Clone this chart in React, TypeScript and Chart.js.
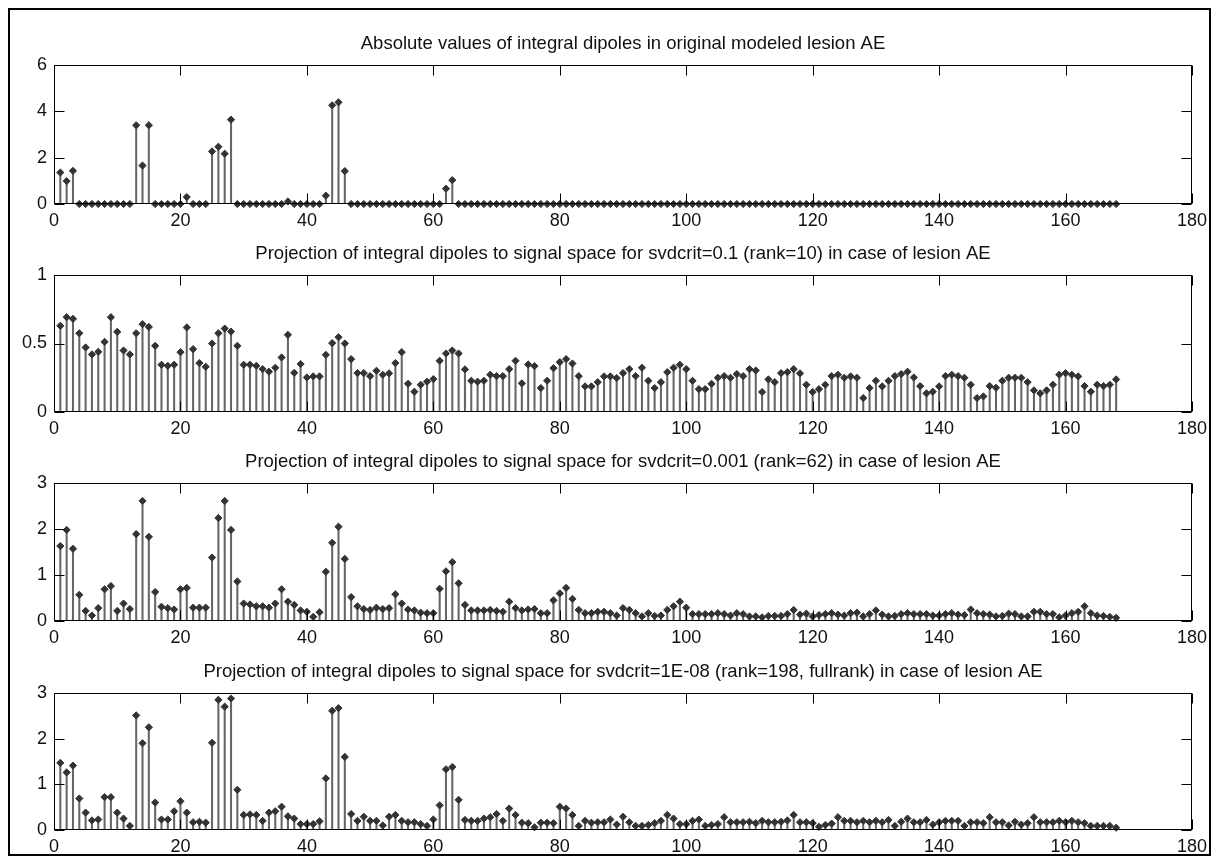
import React, { useEffect, useRef } from "react";
import { Chart, registerables } from "chart.js";

Chart.register(...registerables);

const FONT = '"Liberation Sans", Arial, Helvetica, sans-serif';

const xTicks = [0, 20, 40, 60, 80, 100, 120, 140, 160, 180];

const titles = [
  "Absolute values of integral dipoles in original modeled lesion AE",
  "Projection of integral dipoles to signal space for svdcrit=0.1 (rank=10) in case of lesion AE",
  "Projection of integral dipoles to signal space for svdcrit=0.001 (rank=62) in case of lesion AE",
  "Projection of integral dipoles to signal space for svdcrit=1E-08 (rank=198, fullrank) in case of lesion AE",
];

// dipole index 1..168
const dipoleIndex = Array.from({ length: 168 }, (_, i) => i + 1);

const absValues = [
  1.36, 0.99, 1.43, 0, 0, 0, 0, 0, 0, 0,
  0, 0, 3.40, 1.66, 3.40, 0, 0, 0, 0, 0,
  0.30, 0, 0, 0, 2.27, 2.47, 2.17, 3.64, 0, 0,
  0, 0, 0, 0, 0, 0, 0.11, 0, 0, 0,
  0, 0, 0.36, 4.26, 4.39, 1.42, 0, 0, 0, 0,
  0, 0, 0, 0, 0, 0, 0, 0, 0, 0,
  0, 0.66, 1.03, 0, 0, 0, 0, 0, 0, 0,
  0, 0, 0, 0, 0, 0, 0, 0, 0, 0,
  0, 0, 0, 0, 0, 0, 0, 0, 0, 0,
  0, 0, 0, 0, 0, 0, 0, 0, 0, 0,
  0, 0, 0, 0, 0, 0, 0, 0, 0, 0,
  0, 0, 0, 0, 0, 0, 0, 0, 0, 0,
  0, 0, 0, 0, 0, 0, 0, 0, 0, 0,
  0, 0, 0, 0, 0, 0, 0, 0, 0, 0,
  0, 0, 0, 0, 0, 0, 0, 0, 0, 0,
  0, 0, 0, 0, 0, 0, 0, 0, 0, 0,
  0, 0, 0, 0, 0, 0, 0, 0,
];

const projRank10 = [
  0.629, 0.692, 0.680, 0.575, 0.471, 0.420, 0.439, 0.512, 0.692, 0.585,
  0.449, 0.420, 0.575, 0.641, 0.621, 0.483, 0.345, 0.337, 0.345, 0.437,
  0.617, 0.459, 0.357, 0.330, 0.500, 0.575, 0.609, 0.587, 0.483, 0.345,
  0.345, 0.337, 0.313, 0.294, 0.323, 0.398, 0.563, 0.286, 0.350, 0.252,
  0.260, 0.260, 0.417, 0.503, 0.546, 0.500, 0.386, 0.284, 0.284, 0.262,
  0.301, 0.272, 0.282, 0.357, 0.437, 0.206, 0.148, 0.199, 0.221, 0.240,
  0.374, 0.427, 0.449, 0.427, 0.311, 0.228, 0.221, 0.228, 0.272, 0.262,
  0.262, 0.313, 0.374, 0.209, 0.347, 0.335, 0.175, 0.228, 0.320, 0.364,
  0.386, 0.354, 0.262, 0.187, 0.187, 0.218, 0.260, 0.260, 0.248, 0.284,
  0.313, 0.262, 0.323, 0.228, 0.175, 0.218, 0.291, 0.323, 0.345, 0.313,
  0.228, 0.167, 0.167, 0.206, 0.250, 0.262, 0.250, 0.277, 0.262, 0.313,
  0.303, 0.146, 0.238, 0.218, 0.284, 0.291, 0.313, 0.282, 0.199, 0.146,
  0.167, 0.199, 0.262, 0.272, 0.250, 0.260, 0.250, 0.102, 0.175, 0.228,
  0.187, 0.228, 0.262, 0.277, 0.294, 0.252, 0.189, 0.136, 0.148, 0.187,
  0.262, 0.272, 0.262, 0.250, 0.199, 0.102, 0.114, 0.189, 0.177, 0.228,
  0.250, 0.250, 0.250, 0.218, 0.158, 0.136, 0.158, 0.199, 0.272, 0.284,
  0.272, 0.260, 0.189, 0.148, 0.199, 0.189, 0.199, 0.238,
];

const projRank62 = [
  1.63, 1.98, 1.57, 0.57, 0.22, 0.12, 0.28, 0.69, 0.76, 0.22,
  0.38, 0.26, 1.89, 2.61, 1.83, 0.63, 0.31, 0.28, 0.25, 0.69,
  0.72, 0.29, 0.29, 0.29, 1.38, 2.24, 2.61, 1.98, 0.86, 0.38,
  0.36, 0.32, 0.32, 0.29, 0.38, 0.69, 0.42, 0.35, 0.23, 0.20,
  0.09, 0.19, 1.07, 1.70, 2.05, 1.35, 0.52, 0.32, 0.26, 0.24,
  0.29, 0.26, 0.28, 0.58, 0.38, 0.25, 0.23, 0.18, 0.17, 0.17,
  0.70, 1.08, 1.28, 0.82, 0.35, 0.23, 0.23, 0.23, 0.24, 0.22,
  0.20, 0.42, 0.28, 0.23, 0.25, 0.26, 0.17, 0.17, 0.45, 0.60,
  0.72, 0.48, 0.24, 0.17, 0.17, 0.20, 0.20, 0.17, 0.12, 0.28,
  0.24, 0.17, 0.10, 0.17, 0.11, 0.12, 0.24, 0.32, 0.42, 0.29,
  0.15, 0.15, 0.15, 0.15, 0.17, 0.15, 0.12, 0.17, 0.15, 0.10,
  0.10, 0.08, 0.11, 0.11, 0.11, 0.15, 0.24, 0.14, 0.16, 0.10,
  0.13, 0.15, 0.17, 0.14, 0.12, 0.17, 0.18, 0.10, 0.15, 0.23,
  0.14, 0.10, 0.11, 0.15, 0.17, 0.15, 0.15, 0.15, 0.12, 0.12,
  0.15, 0.17, 0.14, 0.13, 0.25, 0.17, 0.15, 0.14, 0.10, 0.11,
  0.16, 0.15, 0.10, 0.10, 0.20, 0.20, 0.15, 0.15, 0.08, 0.12,
  0.17, 0.20, 0.32, 0.17, 0.12, 0.11, 0.09, 0.07,
];

const projFullRank = [
  1.47, 1.26, 1.41, 0.69, 0.38, 0.21, 0.23, 0.72, 0.72, 0.38,
  0.25, 0.09, 2.51, 1.90, 2.25, 0.60, 0.23, 0.23, 0.41, 0.63,
  0.38, 0.17, 0.18, 0.16, 1.91, 2.85, 2.70, 2.88, 0.88, 0.33,
  0.34, 0.33, 0.20, 0.38, 0.41, 0.51, 0.30, 0.25, 0.13, 0.13,
  0.13, 0.19, 1.13, 2.61, 2.67, 1.60, 0.35, 0.20, 0.29, 0.20,
  0.20, 0.10, 0.29, 0.33, 0.20, 0.17, 0.17, 0.13, 0.09, 0.23,
  0.54, 1.33, 1.38, 0.66, 0.22, 0.20, 0.20, 0.25, 0.28, 0.35,
  0.20, 0.47, 0.33, 0.16, 0.15, 0.06, 0.16, 0.16, 0.15, 0.51,
  0.47, 0.33, 0.09, 0.20, 0.16, 0.17, 0.17, 0.23, 0.12, 0.29,
  0.17, 0.09, 0.09, 0.11, 0.15, 0.20, 0.33, 0.25, 0.13, 0.13,
  0.20, 0.23, 0.09, 0.11, 0.13, 0.28, 0.17, 0.17, 0.17, 0.18,
  0.15, 0.20, 0.17, 0.17, 0.18, 0.21, 0.33, 0.17, 0.17, 0.15,
  0.07, 0.11, 0.14, 0.28, 0.20, 0.20, 0.17, 0.20, 0.17, 0.20,
  0.17, 0.22, 0.09, 0.18, 0.25, 0.17, 0.17, 0.22, 0.12, 0.17,
  0.20, 0.20, 0.20, 0.09, 0.17, 0.17, 0.15, 0.28, 0.17, 0.17,
  0.10, 0.18, 0.12, 0.15, 0.28, 0.17, 0.17, 0.17, 0.20, 0.17,
  0.20, 0.17, 0.15, 0.09, 0.09, 0.09, 0.09, 0.05,
];

const yMaxes = [6, 1, 3, 3];
const ySteps = [2, 0.5, 1, 1];

const boxPlugin = {
  id: "matlabBox",
  afterDraw(chart: any) {
    const { ctx, chartArea: a, scales } = chart;
    const x = scales.x;
    const y = scales.y;
    ctx.save();
    ctx.strokeStyle = "#000";
    ctx.lineWidth = 1;
    const L = Math.round(a.left) + 0.5;
    const R = Math.round(a.right) - 0.5;
    const T = Math.round(a.top) + 0.5;
    const B = Math.round(a.bottom) - 0.5;
    ctx.strokeRect(L, T, R - L, B - T);
    const len = 10;
    ctx.beginPath();
    x.ticks.forEach((t: any) => {
      const px = Math.round(x.getPixelForValue(t.value)) + 0.5;
      ctx.moveTo(px, T);
      ctx.lineTo(px, T + len);
      ctx.moveTo(px, B);
      ctx.lineTo(px, B - len);
    });
    y.ticks.forEach((t: any) => {
      const py = Math.round(y.getPixelForValue(t.value)) + 0.5;
      ctx.moveTo(L, py);
      ctx.lineTo(L + len, py);
      ctx.moveTo(R, py);
      ctx.lineTo(R - len, py);
    });
    ctx.stroke();
    ctx.restore();
  },
};

const TITLE_BOX = 36;
const XAXIS_H = 30;

function StemPanel(props: {
  plotTop: number;
  plotHeight: number;
  values: number[];
  yMax: number;
  yStep: number;
  title: string;
}) {
  const ref = useRef<HTMLCanvasElement>(null);
  const { plotTop, plotHeight, values, yMax, yStep, title } = props;
  const canvasH = TITLE_BOX + plotHeight + XAXIS_H;

  useEffect(() => {
    if (!ref.current) return;
    const pts = dipoleIndex.map((n, i) => ({ x: n, y: values[i] }));
    const chart = new Chart(ref.current, {
      type: "scatter",
      data: {
        datasets: [
          {
            type: "scatter",
            data: pts,
            pointStyle: "rectRot",
            pointRadius: 3.6,
            backgroundColor: "#333",
            borderColor: "#333",
            borderWidth: 1,
            clip: false,
            order: 0,
          } as any,
          {
            type: "bar",
            data: pts,
            backgroundColor: "#666",
            barThickness: 1.4,
            borderWidth: 0,
            order: 1,
          } as any,
        ],
      },
      options: {
        responsive: false,
        animation: false,
        events: [],
        layout: { padding: { left: 0, right: 26, top: 0, bottom: 0 } },
        plugins: {
          legend: { display: false },
          tooltip: { enabled: false },
          title: {
            display: true,
            text: title,
            fullSize: false,
            align: "center",
            color: "#111",
            font: { family: FONT, size: 18.5, weight: "normal", lineHeight: "20px" } as any,
            padding: { top: 5, bottom: 11 },
          },
        },
        scales: {
          x: {
            type: "linear",
            min: 0,
            max: 180,
            offset: false,
            grid: { display: false, drawTicks: false, offset: false },
            border: { display: false },
            afterBuildTicks: (s: any) => {
              s.ticks = xTicks.map((v) => ({ value: v }));
            },
            afterFit: (s: any) => {
              s.height = XAXIS_H;
            },
            ticks: {
              autoSkip: false,
              maxRotation: 0,
              padding: 6,
              color: "#111",
              font: { family: FONT, size: 18 },
              callback: (v: any) => String(+v),
            },
          },
          y: {
            type: "linear",
            min: 0,
            max: yMax,
            grid: { display: false, drawTicks: false },
            border: { display: false },
            afterFit: (s: any) => {
              s.width = 54;
            },
            ticks: {
              stepSize: yStep,
              padding: 7,
              color: "#111",
              font: { family: FONT, size: 18 },
              callback: (v: any) => String(+v),
            },
          },
        },
      },
      plugins: [boxPlugin],
    });
    return () => chart.destroy();
  }, []);

  return (
    <canvas
      ref={ref}
      width={1218}
      height={canvasH}
      style={{ position: "absolute", left: 0, top: plotTop - TITLE_BOX, width: 1218, height: canvasH }}
    />
  );
}

const plotTops = [65, 275, 483, 693];
const plotHeights = [139, 137, 138, 137];
const seriesList = [absValues, projRank10, projRank62, projFullRank];

export default function App() {
  return (
    <div style={{ position: "absolute", left: 0, top: 0, width: 1218, height: 863, background: "#fff", overflow: "hidden" }}>
      <div
        style={{
          position: "absolute",
          left: 8,
          top: 8,
          width: 1203,
          height: 848,
          boxSizing: "border-box",
          border: "2px solid #000",
        }}
      />
      {seriesList.map((vals, k) => (
        <StemPanel
          key={k}
          plotTop={plotTops[k]}
          plotHeight={plotHeights[k]}
          values={vals}
          yMax={yMaxes[k]}
          yStep={ySteps[k]}
          title={titles[k]}
        />
      ))}
    </div>
  );
}
